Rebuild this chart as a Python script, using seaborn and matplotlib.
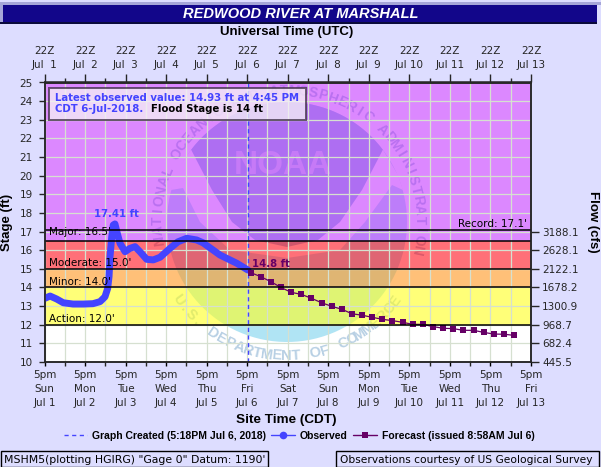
import numpy as np
import matplotlib
matplotlib.use("Agg")
import matplotlib.pyplot as plt
import seaborn as sns
from matplotlib.lines import Line2D
from matplotlib.patches import Polygon, Rectangle

# hours after 5pm Jul 1
obs_hours = [0.3, 3.3, 7.2, 11.1, 16.9, 23, 28.7, 32.9, 35.8, 37.4, 38.2, 38.8, 39.8, 40.7, 41.7,
             43.1, 44.7, 47.7, 50.6, 53.6, 56.5, 60.5, 64.4, 68.4, 74.3, 79, 84.2, 90, 93.8,
             103.9, 113.8, 120.5]
obs_stage = [13.42, 13.54, 13.38, 13.18, 13.11, 13.11, 13.13, 13.24, 13.5, 13.95, 14.58, 15.65, 16.72, 17.35, 17.41,
             16.9, 16.37, 15.92, 16.1, 16.19, 15.92, 15.51, 15.48, 15.62, 16.1, 16.45, 16.64, 16.55, 16.4,
             15.74, 15.3, 14.93]
fcst_hours = [122, 128, 134, 140, 146, 152, 158, 164, 170, 176, 182, 188, 194, 200, 206, 212, 218, 224,
              230, 236, 242, 248, 254, 260, 266, 272, 278]
fcst_stage = [14.8, 14.58, 14.31, 14.0, 13.74, 13.63, 13.42, 13.18, 12.99, 12.83, 12.59, 12.51, 12.4, 12.29,
              12.22, 12.13, 12.02, 12.02, 11.9, 11.81, 11.79, 11.7, 11.7, 11.59, 11.5, 11.49, 11.43]
created_hour = 120.3

day_hours = [0, 24, 48, 72, 96, 120, 144, 168, 192, 216, 240, 264, 288]
half_hours = [12, 36, 60, 84, 108, 132, 156, 180, 204, 228, 252, 276]
day_names = ["Sun", "Mon", "Tue", "Wed", "Thu", "Fri", "Sat", "Sun", "Mon", "Tue", "Wed", "Thu", "Fri"]
dates = ["Jul 1", "Jul 2", "Jul 3", "Jul 4", "Jul 5", "Jul 6", "Jul 7", "Jul 8", "Jul 9", "Jul 10",
         "Jul 11", "Jul 12", "Jul 13"]
stage_ticks = list(range(10, 26))
flow_stage = [10, 11, 12, 13, 14, 15, 16, 17]
flow_labels = ["445.5", "682.4", "968.7", "1300.9", "1678.2", "2122.1", "2628.1", "3188.1"]

band_edges = [12, 14, 15, 16.5, 25]
band_colors = ["#ffff1e", "#ff961e", "#ff111e", "#c639ff"]
flood_levels = [12, 14, 15, 16.5, 17.1]
flood_names = ["Action: 12.0'", "Minor: 14.0'", "Moderate: 15.0'", "Major: 16.5'"]
flood_label_y = [12.02, 14.02, 15.02, 16.72]

BG = "#ddddff"
BLUE = "#4444ff"
PURPLE = "#660066"
W, H = 601, 469


def fx(px):
    return px / W


def fy(py):
    return 1 - py / H


def draw_logo(ax, fig):
    cx, cy, r = 287, 222, 120
    tr = fig.transFigure
    def pts(lst):
        return [(fx(a), fy(b)) for a, b in lst]
    ax.add_patch(Polygon(pts([(cx + r * np.cos(t), cy + r * np.sin(t)) for t in np.linspace(0, 2 * np.pi, 120)]),
                         transform=tr, fc="#b0e4f4", ec="none", zorder=0.3))
    gull = [(191, 150), (175, 172), (171, 190), (183, 188), (200, 222), (230, 250), (287, 258), (340, 250),
            (365, 222), (392, 185), (403, 190), (398, 175), (383, 150)]
    ax.add_patch(Polygon(pts(gull), transform=tr, fc="white", ec="none", zorder=0.35))
    arc = [(cx + r * np.cos(t), cy + r * np.sin(t)) for t in np.linspace(np.radians(-143), np.radians(-37), 40)]
    dark = arc + [(362, 190), (340, 222), (318, 240), (287, 247), (255, 240), (232, 222), (212, 190)]
    ax.add_patch(Polygon(pts(dark), transform=tr, fc="#8cbee1", ec="none", zorder=0.4))
    ax.text(fx(283), fy(165), "NOAA", transform=tr, family="Liberation Sans", weight="bold", fontsize=24,
            color="#c8dcec", ha="center", va="center", zorder=0.45, clip_on=True)
    top_text = "NATIONAL OCEANIC AND ATMOSPHERIC ADMINISTRATION"
    for ang, ch in zip(np.linspace(188, -12, len(top_text)), top_text):
        t = np.radians(ang)
        ax.text(fx(cx + 2 + 131 * np.cos(t)), fy(cy - 131 * np.sin(t)), ch, transform=tr, rotation=ang - 90,
                rotation_mode="anchor", ha="center", va="center", family="Liberation Sans", weight="bold",
                fontsize=10, color="#a8c4dc", zorder=0.45, clip_on=True)
    low_text = "U.S. DEPARTMENT OF COMMERCE"
    for ang, ch in zip(np.linspace(215.6, 324, len(low_text)), low_text):
        t = np.radians(ang)
        ax.text(fx(cx + 134 * np.cos(t)), fy(cy - 134 * np.sin(t)), ch, transform=tr, rotation=ang - 270,
                rotation_mode="anchor", ha="center", va="center", family="Liberation Sans", weight="bold",
                fontsize=10.5, color="#b8d0e4", zorder=0.45, clip_on=True)


def main():
    sns.set_style("ticks")
    plt.rcParams["font.family"] = ["DejaVu Sans"]
    plt.rcParams["axes.linewidth"] = 1.1
    plt.rcParams["text.color"] = "black"

    fig = plt.figure(figsize=(W / 100, H / 100), dpi=100, facecolor=BG)
    ax = fig.add_axes([fx(44.5), fy(362), fx(531) - fx(44.5), fy(82.5) - fy(362)])
    ax.set_facecolor("white")

    # header
    fig.patches.append(Rectangle((0, fy(5)), 1, fy(2) - fy(5), transform=fig.transFigure, fc="#a6a6d8", ec="none"))
    fig.patches.append(Rectangle((0, fy(22)), fx(3), fy(5) - fy(22), transform=fig.transFigure, fc="#a6a6d8", ec="none"))
    fig.patches.append(Rectangle((fx(3), fy(24)), fx(594), fy(5) - fy(24), transform=fig.transFigure, fc="#12068a", ec="none"))
    fig.patches.append(Rectangle((0, fy(24)), fx(597), fy(22) - fy(24), transform=fig.transFigure, fc="#0a0a3c", ec="none"))
    fig.text(fx(300.5), fy(14.5), "REDWOOD RIVER AT MARSHALL", color="white", family="Liberation Sans", weight="bold",
             style="italic", fontsize=10.5, ha="center", va="center")
    fig.text(fx(287), fy(32), "Universal Time (UTC)", family="Liberation Sans", weight="bold", fontsize=9.5, ha="center", va="center")
    fig.text(fx(286.5), fy(420), "Site Time (CDT)", family="Liberation Sans", weight="bold", fontsize=9.7, ha="center", va="center")
    fig.text(fx(7.5), fy(222), "Stage (ft)", family="Liberation Sans", weight="bold", fontsize=9.5, rotation=90, ha="center", va="center")
    fig.text(fx(593), fy(222), "Flow (cfs)", family="Liberation Sans", weight="bold", fontsize=9.5, rotation=-90, ha="center", va="center")

    draw_logo(ax, fig)

    for i in range(len(band_colors)):
        ax.axhspan(band_edges[i], band_edges[i + 1], color=band_colors[i], alpha=0.6, lw=0, zorder=0.6)

    ax.set_xlim(0, 288)
    ax.set_ylim(10, 25)
    ax.set_xticks(day_hours, [f"5pm\n{d}\n{j}" for d, j in zip(day_names, dates)])
    ax.set_xticks(half_hours, minor=True)
    ax.set_yticks(stage_ticks)
    ax.tick_params(axis="x", which="major", length=3, width=1, labelsize=7.5, pad=3, color="black")
    ax.tick_params(axis="x", which="minor", length=3, width=1)
    ax.tick_params(axis="y", length=4.5, width=1, labelsize=7.5, pad=4)
    for lab in ax.get_xticklabels():
        lab.set_linespacing(1.5)
    ax.set_axisbelow("line")
    ax.grid(True, which="both", color="#d6e0d0", lw=0.9)

    for lvl in flood_levels:
        ax.axhline(lvl, color="black", lw=1.1, zorder=5)
    for name, yv in zip(flood_names, flood_label_y):
        ax.text(2.5, yv, name, fontsize=7.5, va="bottom", ha="left", zorder=6)
    ax.text(285.5, 17.15, "Record: 17.1'", fontsize=7.5, va="bottom", ha="right", zorder=6)

    ax.axvline(created_hour, color=BLUE, lw=1, ls=(0, (3, 2.5)), zorder=2.5)
    sns.lineplot(x=obs_hours, y=obs_stage, ax=ax, color=BLUE, linewidth=5, sort=False, errorbar=None, zorder=4,
                 solid_capstyle="round", solid_joinstyle="round")
    sns.lineplot(x=fcst_hours, y=fcst_stage, ax=ax, color=PURPLE, linewidth=0.9, marker="s", markersize=4,
                 markeredgewidth=0, sort=False, errorbar=None, zorder=4)
    ax.set_xlabel("")
    ax.set_ylabel("")

    ax.text(42.3, 17.68, "17.41 ft", color=BLUE, weight="bold", fontsize=7.2, ha="center", va="bottom", zorder=6)
    ax.text(123, 15.0, "14.8 ft", color=PURPLE, weight="bold", fontsize=7.2, ha="left", va="bottom", zorder=6)

    top = ax.secondary_xaxis("top")
    top.set_xticks(day_hours, [f"22Z\n{j.replace(' ', '  ') if len(j) == 5 else j}" for j in dates])
    top.set_xticks(half_hours, minor=True)
    top.tick_params(axis="x", which="major", length=6, width=1, labelsize=7.5, pad=3)
    top.tick_params(axis="x", which="minor", length=3, width=1)
    for lab in top.get_xticklabels():
        lab.set_linespacing(1.5)

    right = ax.twinx()
    right.set_ylim(10, 25)
    right.set_yticks(flow_stage, flow_labels)
    right.tick_params(axis="y", length=6, width=1, labelsize=7.5, pad=2)
    right.grid(False)

    # info box
    fig.patches.append(Rectangle((fx(49), fy(120.5)), fx(257), fy(88) - fy(120.5), transform=fig.transFigure,
                                 fc="#f4f0f6", alpha=0.78, ec="#403048", lw=1.4, zorder=5))
    fig.text(fx(55), fy(98), "Latest observed value: 14.93 ft at 4:45 PM", color=BLUE, weight="bold", fontsize=7.3, va="center", zorder=6)
    fig.text(fx(55), fy(109), "CDT 6-Jul-2018.", color=BLUE, weight="bold", fontsize=7.3, va="center", zorder=6)
    fig.text(fx(151), fy(109), "Flood Stage is 14 ft", color="black", weight="bold", fontsize=7.3, va="center", zorder=6)

    handles = [
        Line2D([], [], color=BLUE, lw=1, ls=(0, (3, 2.5))),
        Line2D([], [], color=BLUE, lw=1, marker="o", markersize=5.5, markeredgewidth=0),
        Line2D([], [], color=PURPLE, lw=1, marker="s", markersize=4, markeredgewidth=0),
    ]
    labels = ["Graph Created (5:18PM Jul 6, 2018)", "Observed", "Forecast (issued 8:58AM Jul 6)"]
    fig.legend(handles, labels, ncol=3, frameon=False, loc="center", bbox_to_anchor=(fx(299), fy(436)),
               prop={"family": "Liberation Sans", "weight": "bold", "size": 7.5},
               handlelength=2.3, handletextpad=0.45, columnspacing=0.5)

    # footer boxes
    fig.patches.append(Rectangle((fx(1), fy(467)), fx(267), fy(451) - fy(467), transform=fig.transFigure, fc="none", ec="black", lw=1))
    fig.patches.append(Rectangle((fx(336), fy(467)), fx(263), fy(451) - fy(467), transform=fig.transFigure, fc="none", ec="black", lw=1))
    fig.patches.append(Rectangle((0, 0), 1, fy(467), transform=fig.transFigure, fc="white", ec="none"))
    fig.text(fx(4), fy(460), "MSHM5(plotting HGIRG) \"Gage 0\" Datum: 1190'", fontsize=7.8, va="center")
    fig.text(fx(340), fy(460), "Observations courtesy of US Geological Survey", fontsize=7.7, va="center")

    fig.savefig("out.png", dpi=100, facecolor=BG)


if __name__ == "__main__":
    main()
